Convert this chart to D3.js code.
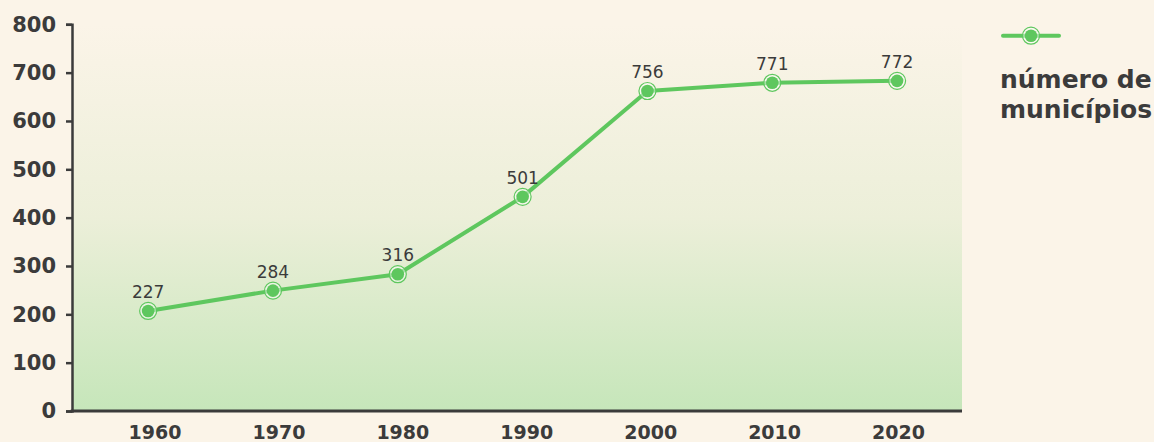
<!DOCTYPE html>
<html>
<head>
<meta charset="utf-8">
<script src="https://cdn.jsdelivr.net/npm/d3@7"></script>
<style>
  html, body { margin: 0; padding: 0; background: #fbf4e8; }
  svg { display: block; }
</style>
</head>
<body>
<div id="chart"></div>
<script>
// data
let years = [1960, 1970, 1980, 1990, 2000, 2010, 2020];
let values = [207, 249, 283, 443, 662, 679, 683];      // where the dots sit
let labels = ["227", "284", "316", "501", "756", "771", "772"]; // what the dots say
let yTicks = [0, 100, 200, 300, 400, 500, 600, 700, 800];
let legendLines = ["número de", "municípios"];

const width = 1154, height = 442;
const green = "#5ec75e";
const ink = "#3b3b3b";

let svg = d3.select("#chart")
  .append("svg")
    .attr("width", width)
    .attr("height", height);

let x = d3.scaleLinear()
  .domain([1953.9, 2025.2])
  .range([72, 962]);

// year labels sit slightly off the dots in the original
let xLabels = d3.scaleLinear()
  .domain([1960, 2020])
  .range([154.5, 898]);

let y = d3.scaleLinear()
  .domain([0, 800])
  .range([411, 24.3]);

let defs = svg.append("defs");
let grad = defs.append("linearGradient")
  .attr("id", "bg")
  .attr("x1", 0).attr("y1", 0)
  .attr("x2", 0).attr("y2", 1);
grad.append("stop").attr("offset", 0).attr("stop-color", "#fbf4e8");
grad.append("stop").attr("offset", 0.5).attr("stop-color", "#ecefd9");
grad.append("stop").attr("offset", 1).attr("stop-color", "#c6e6ba");

svg.append("rect")
  .attr("x", x.range()[0])
  .attr("y", y(800))
  .attr("width", x.range()[1] - x.range()[0])
  .attr("height", y(0) - y(800))
  .attr("fill", "url(#bg)");

// y axis
let yAxis = svg.append("g")
  .attr("transform", "translate(72,0)")
  .call(d3.axisLeft(y).tickValues(yTicks).tickSize(6).tickSizeOuter(6).tickPadding(10));
yAxis.select(".domain").attr("stroke", ink).attr("stroke-width", 2.5);
yAxis.selectAll(".tick line").attr("stroke", ink).attr("stroke-width", 2.5);
yAxis.selectAll(".tick text")
  .attr("fill", ink)
  .style("font-family", "DejaVu Sans")
  .style("font-weight", "bold")
  .style("font-size", "21px");

// x axis
let xAxis = svg.append("g")
  .attr("transform", "translate(0,439)")
  .call(d3.axisBottom(xLabels).tickValues(years).tickFormat(d3.format("d")).tickSize(0).tickPadding(0));
xAxis.select(".domain").remove();
xAxis.selectAll(".tick text")
  .attr("dy", 0)
  .attr("fill", ink)
  .style("font-family", "DejaVu Sans")
  .style("font-weight", "bold")
  .style("font-size", "19px");

svg.append("line")
  .attr("x1", 70.75).attr("x2", x.range()[1])
  .attr("y1", y(0)).attr("y2", y(0))
  .attr("stroke", ink)
  .attr("stroke-width", 3);

let pts = years.map((yr, i) => ({year: yr, value: values[i], label: labels[i]}));

let line = d3.line()
  .x(d => x(d.year))
  .y(d => y(d.value));

svg.append("path")
  .datum(pts)
  .attr("d", line)
  .attr("fill", "none")
  .attr("stroke", green)
  .attr("stroke-width", 4)
  .attr("stroke-linejoin", "round");

function marker(g) {
  g.append("circle")
    .attr("r", 8.5)
    .attr("fill", "rgba(255,255,255,0.45)")
    .attr("stroke", green)
    .attr("stroke-width", 1.2);
  g.append("circle")
    .attr("r", 6.3)
    .attr("fill", green);
}

let dots = svg.selectAll(".dot")
  .data(pts)
  .enter()
  .append("g")
    .attr("class", "dot")
    .attr("transform", d => "translate(" + x(d.year) + "," + y(d.value) + ")");
dots.call(marker);

svg.selectAll(".val")
  .data(pts)
  .enter()
  .append("text")
    .attr("class", "val")
    .attr("x", d => x(d.year))
    .attr("y", d => y(d.value) - 13)
    .attr("text-anchor", "middle")
    .attr("fill", ink)
    .style("font-family", "DejaVu Sans")
    .style("font-size", "17px")
    .text(d => d.label);

// legend
let legend = svg.append("g").attr("class", "legend");
legend.append("line")
  .attr("x1", 1003).attr("x2", 1059)
  .attr("y1", 35.7).attr("y2", 35.7)
  .attr("stroke", green)
  .attr("stroke-width", 4)
  .attr("stroke-linecap", "round");
legend.append("g")
  .attr("transform", "translate(1031,35.7)")
  .call(marker);
legend.selectAll("text")
  .data(legendLines)
  .enter()
  .append("text")
    .attr("x", 1000)
    .attr("y", (d, i) => 87.5 + i * 30.5)
    .attr("fill", ink)
    .style("font-family", "DejaVu Sans")
    .style("font-weight", "bold")
    .style("font-size", "25px")
    .text(d => d);
</script>
</body>
</html>
